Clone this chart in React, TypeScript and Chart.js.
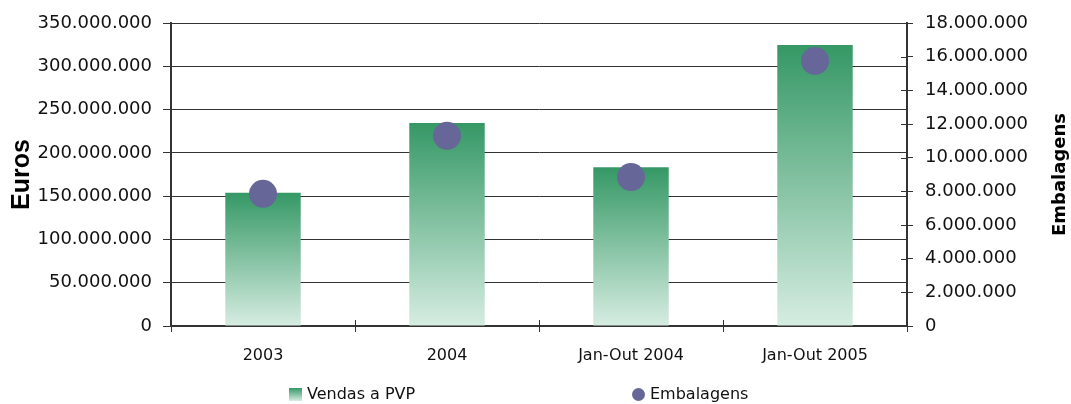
import React, { useEffect, useRef } from 'react';
import { Chart, registerables } from 'chart.js';

Chart.register(...registerables);

// ---- data ----
const categories = ['2003', '2004', 'Jan-Out 2004', 'Jan-Out 2005'];
const vendasPVP = [154000000, 234500000, 183500000, 324500000];
const embalagens = [7850000, 11300000, 8850000, 15750000];
const leftTicks = [0, 50000000, 100000000, 150000000, 200000000, 250000000, 300000000, 350000000];
const rightTicks = [0, 2000000, 4000000, 6000000, 8000000, 10000000, 12000000, 14000000, 16000000, 18000000];
const seriesNames = ['Vendas a PVP', 'Embalagens'];
const axisTitles = ['Euros', 'Embalagens'];

// ---- styles ----
const W = 1071;
const H = 404;
const FONT = "'DejaVu Sans', sans-serif";
const TEXT = '#111111';
const LINE = '#333333';
const GREEN_TOP = '#359865';
const GREEN_BOTTOM = '#d6ede2';
const PURPLE = '#666699';

const fmt = (v: number) => Math.round(v).toString().replace(/\B(?=(\d{3})+(?!\d))/g, '.');

const extrasPlugin = {
  id: 'extras',
  afterDraw(chart: any) {
    const { ctx, chartArea, scales } = chart;
    ctx.save();
    // inward tick marks
    ctx.beginPath();
    ctx.strokeStyle = LINE;
    ctx.lineWidth = 1;
    scales.y1.ticks.forEach((_t: any, i: number) => {
      const y = Math.round(scales.y1.getPixelForTick(i)) + 0.5;
      ctx.moveTo(chartArea.right - 6, y);
      ctx.lineTo(chartArea.right, y);
    });
    for (let i = 0; i <= categories.length; i++) {
      const x = Math.round(scales.x.getPixelForValue(i - 0.5)) + 0.5;
      ctx.moveTo(x, chartArea.bottom - 6);
      ctx.lineTo(x, chartArea.bottom);
    }
    ctx.stroke();

    // right axis title, reading bottom-to-top
    ctx.save();
    ctx.translate(chart.width - 11, (chartArea.top + chartArea.bottom) / 2);
    ctx.rotate(-Math.PI / 2);
    ctx.font = `bold 18px ${FONT}`;
    ctx.fillStyle = '#000';
    ctx.textAlign = 'center';
    ctx.textBaseline = 'middle';
    ctx.fillText(axisTitles[1], 0, 0);
    ctx.restore();

    // legend
    const ly = 394.5;
    const x1 = 289;
    const x2 = 632;
    const g = ctx.createLinearGradient(0, ly - 6.5, 0, ly + 6.5);
    g.addColorStop(0, GREEN_TOP);
    g.addColorStop(1, GREEN_BOTTOM);
    ctx.fillStyle = g;
    ctx.fillRect(x1, ly - 6.5, 13, 13);
    ctx.fillStyle = PURPLE;
    ctx.beginPath();
    ctx.arc(x2 + 6.5, ly, 6.5, 0, Math.PI * 2);
    ctx.fill();
    ctx.font = `16px ${FONT}`;
    ctx.fillStyle = TEXT;
    ctx.textAlign = 'left';
    ctx.textBaseline = 'middle';
    ctx.fillText(seriesNames[0], x1 + 18, ly);
    ctx.fillText(seriesNames[1], x2 + 18, ly);
    ctx.restore();
  },
};

export default function App() {
  const ref = useRef<HTMLCanvasElement>(null);

  useEffect(() => {
    if (!ref.current) return;
    const chart = new Chart(ref.current, {
      type: 'bar',
      data: {
        labels: categories,
        datasets: [
          {
            type: 'bar',
            label: seriesNames[0],
            data: vendasPVP,
            yAxisID: 'y',
            order: 1,
            barPercentage: 0.41,
            categoryPercentage: 1,
            borderWidth: 0,
            backgroundColor: (c: any) => {
              const chart = c.chart;
              if (!chart.chartArea || c.type !== 'data' || !c.parsed) return GREEN_TOP;
              const ys = chart.scales.y;
              const top = ys.getPixelForValue(c.parsed.y);
              const bottom = ys.getPixelForValue(0);
              const g = chart.ctx.createLinearGradient(0, top, 0, bottom);
              g.addColorStop(0, GREEN_TOP);
              g.addColorStop(1, GREEN_BOTTOM);
              return g;
            },
          } as any,
          {
            type: 'line',
            label: seriesNames[1],
            data: embalagens,
            yAxisID: 'y1',
            order: 0,
            showLine: false,
            pointRadius: 14,
            pointHoverRadius: 14,
            pointBorderWidth: 0,
            pointBackgroundColor: PURPLE,
            backgroundColor: PURPLE,
            borderColor: PURPLE,
          } as any,
        ],
      },
      options: {
        responsive: false,
        animation: false,
        events: [],
        layout: { padding: { top: 23, bottom: 38, left: 0, right: 0 } },
        plugins: { legend: { display: false }, tooltip: { enabled: false } },
        scales: {
          x: {
            offset: true,
            grid: { offset: true, drawOnChartArea: false, drawTicks: true, tickLength: 6, color: LINE, lineWidth: 1 },
            border: { display: true, color: LINE, width: 2 },
            ticks: { font: { family: FONT, size: 16 }, color: TEXT, padding: 14, maxRotation: 0, autoSkip: false },
            afterFit: (s: any) => { s.height = 40; },
          },
          y: {
            position: 'left',
            min: 0,
            max: leftTicks[leftTicks.length - 1],
            afterBuildTicks: (s: any) => { s.ticks = leftTicks.map((v) => ({ value: v })); },
            grid: { color: LINE, lineWidth: 1, tickLength: 8, drawTicks: true },
            border: { color: LINE, width: 2 },
            ticks: { font: { family: FONT, size: 18 }, color: TEXT, padding: 11, callback: (v: any) => fmt(Number(v)) },
            title: {
              display: true,
              text: axisTitles[0],
              font: { family: "'Liberation Sans', sans-serif", weight: 'bold', size: 25 },
              color: '#000',
              padding: { top: 7, bottom: 0 },
            },
            afterFit: (s: any) => { s.width = 171; },
          },
          y1: {
            position: 'right',
            min: 0,
            max: rightTicks[rightTicks.length - 1],
            afterBuildTicks: (s: any) => { s.ticks = rightTicks.map((v) => ({ value: v })); },
            grid: { drawOnChartArea: false, color: LINE, lineWidth: 1, tickLength: 6, drawTicks: true },
            border: { color: LINE, width: 2 },
            ticks: { font: { family: FONT, size: 18 }, color: TEXT, padding: 12, callback: (v: any) => fmt(Number(v)) },
            afterFit: (s: any) => { s.width = 164; },
          },
        },
      } as any,
      plugins: [extrasPlugin],
    });
    return () => chart.destroy();
  }, []);

  return (
    <div style={{ position: 'fixed', left: 0, top: 0, width: W, height: H, background: '#fff' }}>
      <canvas ref={ref} width={W} height={H} style={{ display: 'block' }} />
    </div>
  );
}
